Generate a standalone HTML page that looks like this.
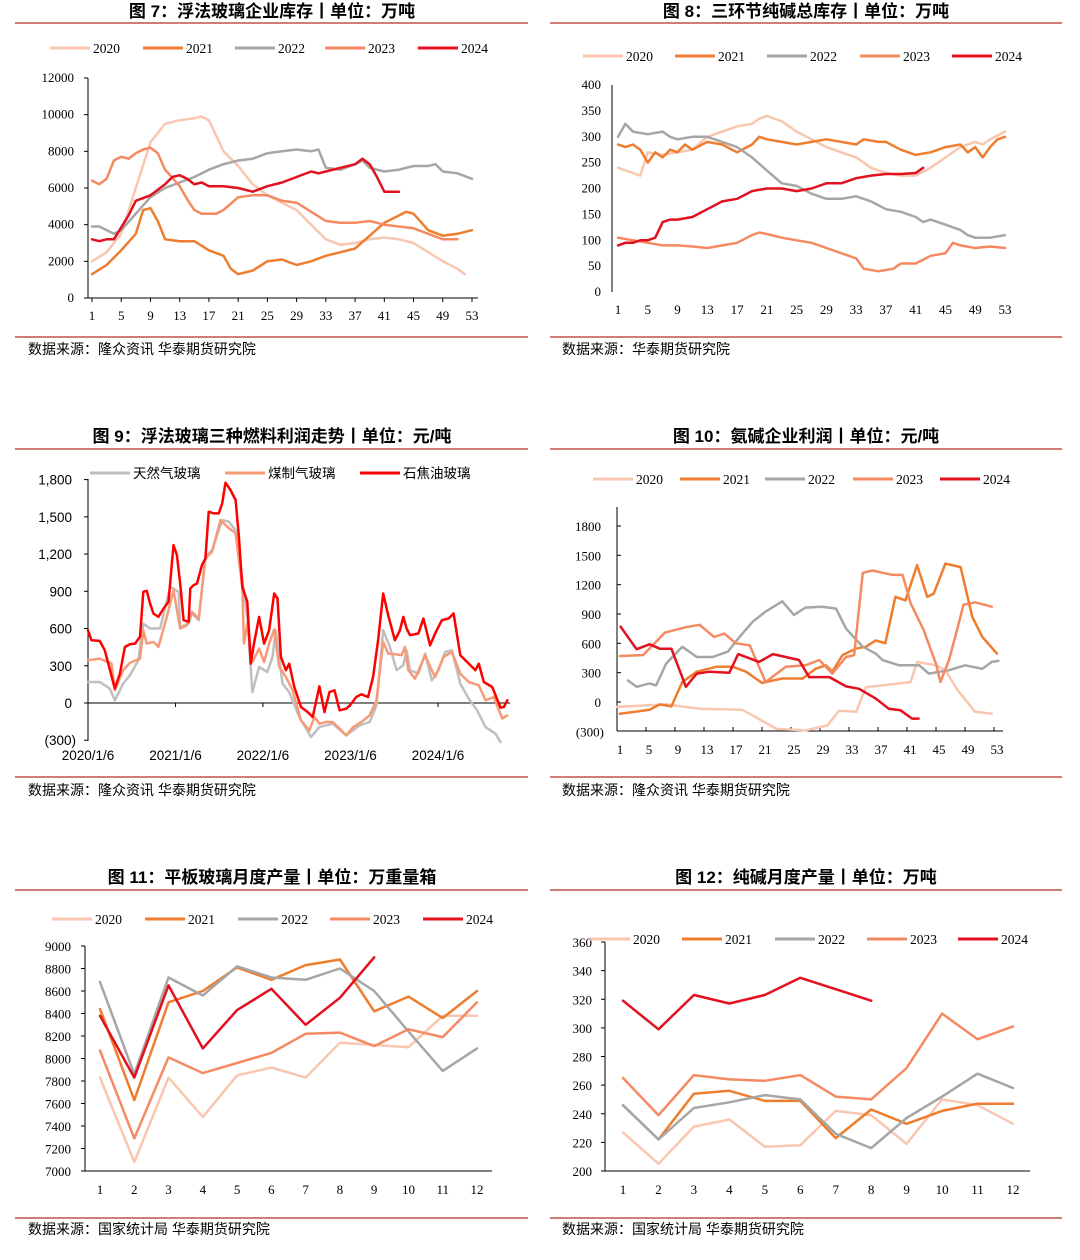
<!DOCTYPE html>
<html><head><meta charset="utf-8"><title>Charts</title>
<style>
html,body{margin:0;padding:0;background:#fff;}
svg{display:block;}
.t{font-family:"Liberation Sans","Noto Sans CJK SC",sans-serif;font-weight:bold;font-size:17px;fill:#000;}
.ax{font-family:"Liberation Serif","Noto Serif CJK SC",serif;font-size:13px;fill:#000;}
.axs{font-family:"Liberation Sans","Noto Sans CJK SC",sans-serif;font-size:13.5px;fill:#000;}
.lg{font-family:"Liberation Serif","Noto Sans CJK SC",serif;font-size:13.5px;fill:#000;}
.src{font-family:"Liberation Sans","Noto Sans CJK SC",sans-serif;font-size:14px;fill:#000;}
</style></head>
<body>
<svg id="root" width="1080" height="1260" viewBox="0 0 1080 1260" xmlns="http://www.w3.org/2000/svg">
<g>
<text class="t" x="272" y="17" text-anchor="middle">图 7：浮法玻璃企业库存丨单位：万吨</text>
<text class="t" x="806" y="17" text-anchor="middle">图 8：三环节纯碱总库存丨单位：万吨</text>
<text class="t" x="272" y="442" text-anchor="middle">图 9：浮法玻璃三种燃料利润走势丨单位：元/吨</text>
<text class="t" x="806" y="442" text-anchor="middle">图 10：氨碱企业利润丨单位：元/吨</text>
<text class="t" x="272" y="883" text-anchor="middle">图 11：平板玻璃月度产量丨单位：万重量箱</text>
<text class="t" x="806" y="883" text-anchor="middle">图 12：纯碱月度产量丨单位：万吨</text>
</g>
<g stroke="#c0504d" stroke-width="1.5">
<line x1="15" y1="23" x2="528" y2="23"/><line x1="550" y1="23" x2="1062" y2="23"/>
<line x1="15" y1="337" x2="528" y2="337"/><line x1="550" y1="337" x2="1062" y2="337"/>
<line x1="15" y1="449" x2="528" y2="449"/><line x1="550" y1="449" x2="1062" y2="449"/>
<line x1="15" y1="777" x2="528" y2="777"/><line x1="550" y1="777" x2="1062" y2="777"/>
<line x1="15" y1="890" x2="528" y2="890"/><line x1="550" y1="890" x2="1062" y2="890"/>
<line x1="15" y1="1218" x2="528" y2="1218"/><line x1="550" y1="1218" x2="1062" y2="1218"/>
</g>
<g>
<text class="src" x="28" y="354">数据来源：隆众资讯 华泰期货研究院</text>
<text class="src" x="562" y="354">数据来源：华泰期货研究院</text>
<text class="src" x="28" y="795">数据来源：隆众资讯 华泰期货研究院</text>
<text class="src" x="562" y="795">数据来源：隆众资讯 华泰期货研究院</text>
<text class="src" x="28" y="1234">数据来源：国家统计局 华泰期货研究院</text>
<text class="src" x="562" y="1234">数据来源：国家统计局 华泰期货研究院</text>
</g>
</svg>
<script>
const C20='#f9c6b0',C21='#ee7d2f',C22='#a6a6a6',C23='#f58a62',C24='#e3101f';
const yearLabels=['2020','2021','2022','2023','2024'];
const yearColors=[C20,C21,C22,C23,C24];

// ---- Chart 7 data (weeks, values) ----
const c7w20=[1,3,5,7,9,11,13,15,16,17,19,21,23,25,27,29,31,33,35,37,39,41,43,45,47,49,51,52];
const c7v20=[2000,2500,3500,6000,8500,9500,9700,9800,9900,9700,8000,7200,6200,5600,5200,4800,4000,3200,2900,3000,3200,3300,3200,3000,2500,2000,1600,1300];
const c7w21=[1,3,5,7,8,9,10,11,13,15,17,19,20,21,23,25,27,29,31,33,35,37,39,41,43,44,45,47,49,51,53];
const c7v21=[1300,1800,2600,3500,4800,4900,4200,3200,3100,3100,2600,2300,1600,1300,1500,2000,2100,1800,2000,2300,2500,2700,3400,4100,4500,4700,4600,3700,3400,3500,3700];
const c7w22=[1,2,4,5,7,9,11,13,15,17,19,21,23,25,27,29,31,32,33,35,37,38,39,41,43,45,47,48,49,51,53];
const c7v22=[3900,3900,3500,3700,4600,5500,6000,6300,6600,7000,7300,7500,7600,7900,8000,8100,8000,8100,7100,7000,7300,7500,7100,6900,7000,7200,7200,7300,6900,6800,6500];
const c7w23=[1,2,3,4,5,6,7,8,9,10,11,13,14,15,16,18,19,21,23,25,27,29,31,33,35,37,39,41,43,45,47,49,51];
const c7v23=[6400,6200,6500,7500,7700,7600,7900,8100,8200,7900,7000,6100,5400,4800,4600,4600,4800,5500,5600,5600,5300,5200,4700,4200,4100,4100,4200,4000,3900,3800,3500,3200,3200];
const c7w24=[1,2,3,4,6,7,9,11,12,13,14,15,16,17,19,21,23,25,27,29,31,32,33,35,37,38,39,40,41,43];
const c7v24=[3200,3100,3200,3200,4500,5300,5600,6200,6600,6700,6500,6200,6300,6100,6100,6000,5800,6100,6300,6600,6900,6800,6900,7100,7300,7600,7300,6600,5800,5800];
const c7yTicks=[0,2000,4000,6000,8000,10000,12000];
const c7xTicks=[1,5,9,13,17,21,25,29,33,37,41,45,49,53];

// ---- Chart 8 data ----
const c8w20=[1,3,4,5,7,9,11,13,15,17,19,20,21,23,25,27,29,31,33,35,37,39,41,43,45,47,49,50,51,53];
const c8v20=[240,230,225,270,265,270,275,300,310,320,325,335,340,330,310,295,280,270,260,240,230,225,225,240,260,280,290,285,295,310];
const c8w21=[1,2,3,4,5,6,7,8,9,10,11,13,15,17,19,20,21,23,25,27,29,31,33,34,36,37,39,40,41,43,45,47,48,49,50,51,52,53];
const c8v21=[285,280,285,275,250,270,260,275,270,285,275,290,285,270,285,300,295,290,285,290,295,290,285,295,290,290,275,270,265,270,280,285,270,280,260,280,295,300];
const c8w22=[1,2,3,5,7,8,9,11,13,15,17,19,21,23,25,27,29,31,33,35,37,39,41,42,43,45,47,48,49,51,53];
const c8v22=[300,325,310,305,310,300,295,300,300,290,280,260,235,210,205,190,180,180,185,175,160,155,145,135,140,130,120,110,105,105,110];
const c8w23=[1,3,5,7,9,11,13,15,17,19,20,21,23,25,27,29,31,33,34,36,38,39,41,43,45,46,47,49,51,53];
const c8v23=[105,100,95,90,90,88,85,90,95,110,115,112,105,100,95,85,75,65,45,40,45,55,55,70,75,95,90,85,88,85];
const c8w24=[1,2,3,4,5,6,7,8,9,11,13,15,17,19,21,23,25,27,29,31,33,35,37,39,41,42];
const c8v24=[90,95,95,100,100,105,135,140,140,145,160,175,180,195,200,200,195,200,210,210,220,225,228,228,230,240];
const c8yTicks=[0,50,100,150,200,250,300,350,400];
const c8xTicks=[1,5,9,13,17,21,25,29,33,37,41,45,49,53];

// ---- Chart 9 data (weeks since 2020/1/6) ----
const c9wRed=[0,2,7,10,16,19,22,25,28,31,33,35,37,39,42,45,48,51,53,55,57,60,61,63,65,68,70,72,75,78,80,82,85,88,90,92,95,97,99,102,105,108,111,113,115,118,120,123,127,131,134,138,141,144,147,150,154,157,160,163,167,170,173,176,179,183,186,188,190,192,197,200,204,207,211,215,218,222,226,231,233,236,241,246,248,250];
const c9vRed=[586,506,500,425,116,237,452,473,479,533,896,904,802,721,694,761,815,1272,1192,963,667,654,923,950,963,1111,1165,1541,1528,1528,1609,1775,1716,1636,1340,936,815,317,479,694,479,586,882,842,371,264,317,129,-32,-73,-113,134,-73,89,102,-59,-46,-5,48,70,48,210,506,882,707,506,586,694,600,546,560,681,465,560,667,681,721,385,331,264,317,169,129,-38,-32,22];
const c9wCoal=[0,7,14,16,21,25,31,33,35,39,42,47,51,55,59,62,66,70,74,79,83,88,92,93,95,98,102,105,108,111,114,118,122,127,132,135,138,142,146,150,154,158,163,168,172,176,179,183,187,189,191,195,201,205,207,212,217,222,227,233,237,242,247,250];
const c9vCoal=[344,358,317,102,264,323,358,586,479,492,452,694,909,600,627,734,681,1165,1219,1474,1420,1367,936,479,640,331,438,331,479,592,291,210,102,-140,-221,-113,-167,-153,-153,-207,-261,-194,-153,-100,22,492,398,393,385,452,264,196,385,264,210,371,412,237,169,143,22,48,-126,-100];
const c9wGas=[0,7,13,16,21,25,30,33,37,43,49,54,55,60,62,66,70,74,80,84,88,92,95,98,102,107,110,112,116,120,126,133,138,146,154,162,168,172,176,180,184,188,190,192,197,201,205,209,213,217,222,227,232,237,243,246];
const c9vGas=[169,169,116,22,156,223,344,640,600,600,936,896,613,640,721,667,1178,1232,1474,1461,1393,990,694,89,291,250,371,586,156,89,-113,-274,-194,-167,-261,-180,-153,-19,586,452,264,304,425,264,237,398,183,264,412,425,156,35,-59,-194,-247,-315];
const c9yTicks=[-300,0,300,600,900,1200,1500,1800];
const c9yTickLabels=['(300)','0','300','600','900','1,200','1,500','1,800'];
const c9xTickWeeks=[0,52.2,104.3,156.5,208.7];
const c9xTickLabels=['2020/1/6','2021/1/6','2022/1/6','2023/1/6','2024/1/6'];

// ---- Chart 10 data ----
const c10w20=[1,7.8,12.4,18.3,20,23,27,30,31.6,34,35.3,40,41.5,42.4,45,46.3,48,50.4,52.7];
const c10v20=[-50,-25,-70,-80,-150,-275,-290,-240,-90,-100,150,190,205,410,375,325,120,-100,-120];
const c10w21=[1.4,5.5,6.9,8.5,10,12,14.7,17,18.8,21,23.8,26.6,28.4,29.8,30.7,32.1,33.9,35.3,36.7,38,39.4,40.8,42.4,43.8,44.7,46.3,48.4,50,51.4,53.4];
const c10v21=[-120,-80,-25,-45,205,310,360,360,310,195,240,240,340,375,310,480,545,565,630,600,1075,1040,1400,1075,1110,1415,1380,870,665,495];
const c10w22=[2.5,3.7,5.5,6.4,7.8,10,12,14.2,16.3,17.9,19.7,21.5,23.8,25.4,27,29.3,31.2,32.6,34.9,36.7,37.6,39.9,42.7,44,46.8,49,51.4,52.7,53.6];
const c10v22=[220,155,190,170,395,565,460,460,515,665,820,925,1030,890,965,975,955,750,565,495,430,375,375,290,325,375,340,410,420];
const c10w23=[1.4,4.6,7.6,10.5,12.4,14.4,15.8,17.4,19.3,21.5,24.3,27,28.9,30.7,32.6,33.7,34.9,36.2,39,40.4,41.5,43.3,45,45.6,46.8,47.9,48.8,50.4,52.7];
const c10v23=[470,480,710,765,790,665,700,600,580,205,360,375,430,290,460,480,1320,1345,1300,1300,1010,735,390,205,430,735,995,1020,975];
const c10w24=[1.5,3.7,5.5,6.9,8.5,10.5,12,13.8,16.5,17.7,20.6,22.5,26.1,27.5,30.3,32.6,34.4,36.7,38.5,40.1,41.7,42.6];
const c10v24=[770,540,590,545,545,155,290,310,300,490,410,490,430,255,255,160,135,35,-70,-85,-170,-170];
const c10yTicks=[-300,0,300,600,900,1200,1500,1800];
const c10yTickLabels=['(300)','0','300','600','900','1200','1500','1800'];
const c10xTicks=[1,5,9,13,17,21,25,29,33,37,41,45,49,53];

// ---- Chart 11 data ----
const months=[1,2,3,4,5,6,7,8,9,10,11,12];
const c11v20=[7830,7080,7830,7480,7850,7920,7830,8140,8120,8100,8380,8380];
const c11v21=[8440,7630,8500,8600,8810,8700,8830,8880,8420,8550,8360,8600];
const c11v22=[8680,7860,8720,8560,8820,8720,8700,8800,8600,8240,7890,8090];
const c11v23=[8070,7290,8010,7870,7960,8050,8220,8230,8110,8260,8190,8500];
const c11v24=[8380,7830,8650,8090,8430,8620,8300,8540,8900];
const c11yTicks=[7000,7200,7400,7600,7800,8000,8200,8400,8600,8800,9000];

// ---- Chart 12 data ----
const c12v20=[227,205,231,236,217,218,242,239,219,250,246,233];
const c12v21=[246,222,254,256,249,249,223,243,233,242,247,247];
const c12v22=[246,222,244,248,253,250,226,216,237,252,268,258];
const c12v23=[265,239,267,264,263,267,252,250,272,310,292,301];
const c12v24=[319,299,323,317,323,335,327,319];
const c12yTicks=[200,220,240,260,280,300,320,340,360];

const NS='http://www.w3.org/2000/svg';
const root=document.getElementById('root');
function mk(tag,attrs,parent){const e=document.createElementNS(NS,tag);for(const k in attrs)e.setAttribute(k,attrs[k]);(parent||root).appendChild(e);return e;}
function txt(str,attrs,parent){const e=mk('text',attrs,parent);e.textContent=str;return e;}
function scale(d0,d1,r0,r1){return v=>r0+(v-d0)*(r1-r0)/(d1-d0);}
function series(g,xs,ys,xf,yf,color,w,name){
  const d=xs.map((x,i)=>(i?'L':'M')+xf(x).toFixed(1)+','+yf(ys[i]).toFixed(1)).join(' ');
  const p=mk('path',{d:d,fill:'none',stroke:color,'stroke-width':w,'stroke-linejoin':'round','stroke-linecap':'round'},g);
  
  
  return p;
}
function legend(g,items,colors,y,lineXs,cls){
  items.forEach((lab,i)=>{
    const it=mk('g',{},g);
    
    
    mk('line',{x1:lineXs[i],y1:y,x2:lineXs[i]+40,y2:y,stroke:colors[i],'stroke-width':3},it);
    txt(lab,{x:lineXs[i]+43,y:y+5,class:cls||'lg'},it);
  });
}
function group(name){const g=mk('g',{});return g;}

// Chart 7
(function(){
  const g=group('chart7-glass-inventory');
  const x=scale(1,53,92,472), y=scale(0,12000,298,78);
  mk('line',{x1:88,y1:78,x2:88,y2:298,stroke:'#000'},g);
  mk('line',{x1:88,y1:298,x2:478,y2:298,stroke:'#000'},g);
  c7yTicks.forEach(t=>{mk('line',{x1:84,y1:y(t),x2:88,y2:y(t),stroke:'#000'},g);txt(String(t),{x:74,y:y(t)+4,'text-anchor':'end',class:'ax'},g);});
  c7xTicks.forEach(t=>{mk('line',{x1:x(t),y1:298,x2:x(t),y2:302,stroke:'#000'},g);txt(String(t),{x:x(t),y:320,'text-anchor':'middle',class:'ax'},g);});
  series(g,c7w20,c7v20,x,y,C20,2.5,'line-2020');
  series(g,c7w21,c7v21,x,y,C21,2.5,'line-2021');
  series(g,c7w22,c7v22,x,y,C22,2.5,'line-2022');
  series(g,c7w23,c7v23,x,y,C23,2.5,'line-2023');
  series(g,c7w24,c7v24,x,y,C24,2.5,'line-2024');
  legend(g,yearLabels,yearColors,48,[50,143,235,325,418]);
})();
// Chart 8
(function(){
  const g=group('chart8-soda-inventory');
  const x=scale(1,53,618,1005), y=scale(0,400,292,85);
  mk('line',{x1:612,y1:85,x2:612,y2:292,stroke:'#000'},g);
  c8yTicks.forEach(t=>{txt(String(t),{x:601,y:y(t)+4,'text-anchor':'end',class:'ax'},g);});
  c8xTicks.forEach(t=>{txt(String(t),{x:x(t),y:314,'text-anchor':'middle',class:'ax'},g);});
  series(g,c8w20,c8v20,x,y,C20,2.5,'line-2020');
  series(g,c8w21,c8v21,x,y,C21,2.5,'line-2021');
  series(g,c8w22,c8v22,x,y,C22,2.5,'line-2022');
  series(g,c8w23,c8v23,x,y,C23,2.5,'line-2023');
  series(g,c8w24,c8v24,x,y,C24,2.5,'line-2024');
  legend(g,yearLabels,yearColors,56,[583,675,767,860,952]);
})();
// Chart 9
(function(){
  const g=group('chart9-fuel-profit');
  const x=scale(0,208.7,88,438), y=scale(0,1800,703,479.6);
  mk('line',{x1:88,y1:479,x2:88,y2:741,stroke:'#000'},g);
  c9yTicks.forEach((t,i)=>{mk('line',{x1:84,y1:y(t),x2:88,y2:y(t),stroke:'#000'},g);txt(c9yTickLabels[i],{x:t<0?76:72,y:y(t)+5,'text-anchor':'end',class:'axs',fill:t<0?'#e02020':'#000'},g);});
  mk('line',{x1:88,y1:703,x2:510,y2:703,stroke:'#000'},g);
  c9xTickWeeks.forEach((t,i)=>{mk('line',{x1:x(t),y1:703,x2:x(t),y2:707,stroke:'#000'},g);txt(c9xTickLabels[i],{x:x(t),y:760,'text-anchor':'middle',class:'axs'},g);});
  series(g,c9wGas,c9vGas,x,y,'#bfbfbf',2.5,'line-natural-gas');
  series(g,c9wCoal,c9vCoal,x,y,'#f79a77',2.5,'line-coal-gas');
  series(g,c9wRed,c9vRed,x,y,'#ff0000',2.5,'line-petroleum-coke');
  legend(g,['天然气玻璃','煤制气玻璃','石焦油玻璃'],['#bfbfbf','#f79a77','#ff0000'],473,[90,225,360],'axs');
})();
// Chart 10
(function(){
  const g=group('chart10-ammonia-soda-profit');
  const x=scale(1,53,617,994), y=scale(0,1800,702,526);
  mk('line',{x1:617,y1:507,x2:617,y2:731,stroke:'#000'},g);
  mk('line',{x1:617,y1:731,x2:1003,y2:731,stroke:'#000'},g);
  c10yTicks.forEach((t,i)=>{if(t>-300)mk('line',{x1:617,y1:y(t),x2:621,y2:y(t),stroke:'#000'},g);txt(c10yTickLabels[i],{x:t<0?604:601,y:y(t)+5,'text-anchor':'end',class:'ax',fill:t<0?'#e02020':'#000'},g);});
  c10xTicks.forEach(t=>{mk('line',{x1:x(t),y1:731,x2:x(t),y2:727,stroke:'#000'},g);txt(String(t),{x:x(t)+3,y:754,'text-anchor':'middle',class:'ax'},g);});
  series(g,c10w20,c10v20,x,y,C20,2.5,'line-2020');
  series(g,c10w21,c10v21,x,y,C21,2.5,'line-2021');
  series(g,c10w22,c10v22,x,y,C22,2.5,'line-2022');
  series(g,c10w23,c10v23,x,y,C23,2.5,'line-2023');
  series(g,c10w24,c10v24,x,y,C24,2.5,'line-2024');
  legend(g,yearLabels,yearColors,479,[593,680,765,853,940]);
})();
// Chart 11
(function(){
  const g=group('chart11-glass-output');
  const x=scale(1,12,100,477), y=scale(7000,9000,1171,946);
  mk('line',{x1:85,y1:946,x2:85,y2:1171,stroke:'#000'},g);
  mk('line',{x1:85,y1:1171,x2:492,y2:1171,stroke:'#000'},g);
  c11yTicks.forEach(t=>{mk('line',{x1:81,y1:y(t),x2:85,y2:y(t),stroke:'#000'},g);txt(String(t),{x:71,y:y(t)+5,'text-anchor':'end',class:'ax'},g);});
  months.forEach(t=>{txt(String(t),{x:x(t),y:1194,'text-anchor':'middle',class:'ax'},g);});
  [c11v20,c11v21,c11v22,c11v23,c11v24].forEach((v,i)=>series(g,months.slice(0,v.length),v,x,y,yearColors[i],2.5,'line-'+yearLabels[i]));
  legend(g,yearLabels,yearColors,919,[52,145,238,330,423]);
})();
// Chart 12
(function(){
  const g=group('chart12-soda-output');
  const x=scale(1,12,623,1013), y=scale(200,360,1171,942);
  mk('line',{x1:605,y1:942,x2:605,y2:1171,stroke:'#000'},g);
  mk('line',{x1:605,y1:1171,x2:1030,y2:1171,stroke:'#000'},g);
  c12yTicks.forEach(t=>{mk('line',{x1:601,y1:y(t),x2:605,y2:y(t),stroke:'#000'},g);txt(String(t),{x:592,y:y(t)+5,'text-anchor':'end',class:'ax'},g);});
  months.forEach(t=>{txt(String(t),{x:x(t),y:1194,'text-anchor':'middle',class:'ax'},g);});
  [c12v20,c12v21,c12v22,c12v23,c12v24].forEach((v,i)=>series(g,months.slice(0,v.length),v,x,y,yearColors[i],2.5,'line-'+yearLabels[i]));
  legend(g,yearLabels,yearColors,939,[590,682,775,867,958]);
})();
</script>
</body></html>
